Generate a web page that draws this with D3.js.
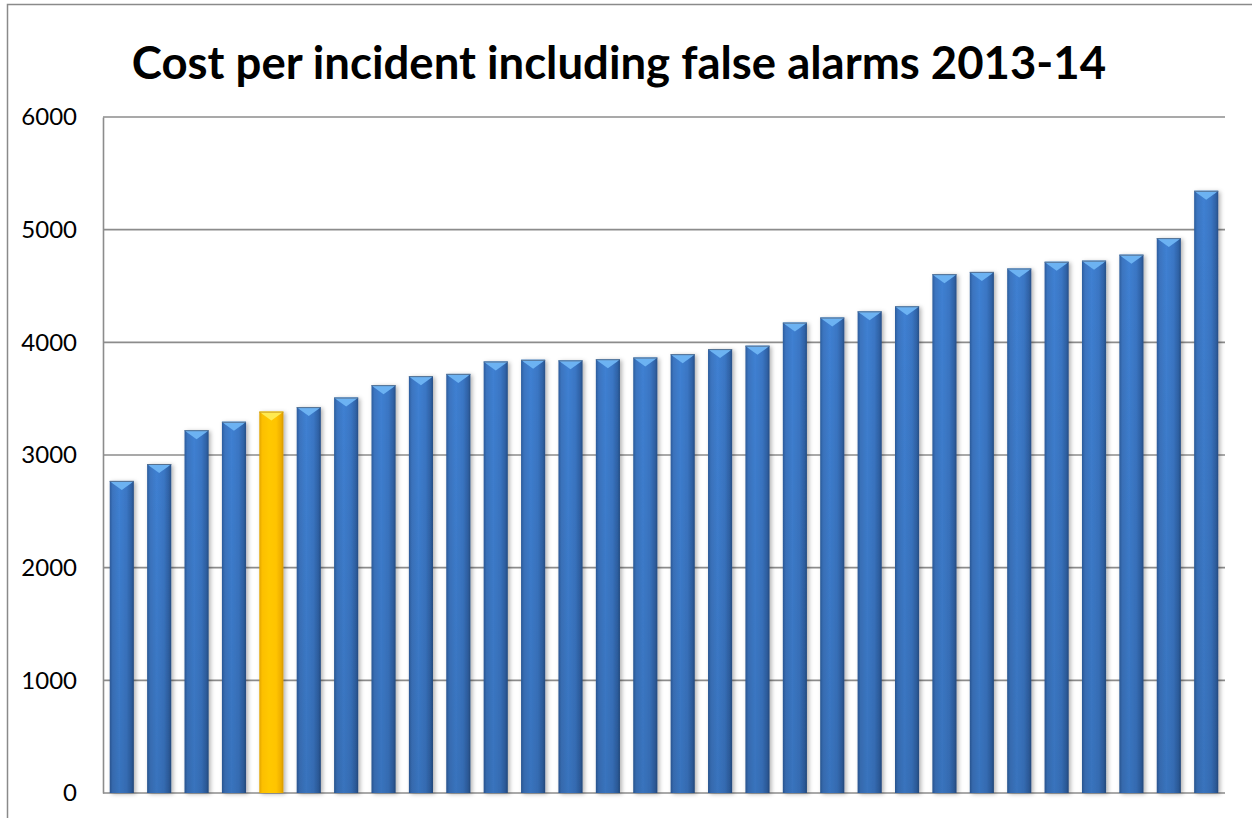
<!DOCTYPE html>
<html>
<head>
<meta charset="utf-8">
<script src="https://cdn.jsdelivr.net/npm/d3@7"></script>
<style>
  html, body { margin: 0; padding: 0; background: #fff; }
  svg { display: block; }
</style>
</head>
<body>
<svg id="chart" width="1252" height="818"></svg>
<script>
// Cost per incident (£) for each service, sorted ascending
const services = d3.range(1, 31).map(i => "S" + i);
const costs = [2770, 2920, 3220, 3295, 3385, 3425, 3510, 3620, 3700, 3720,
               3830, 3845, 3840, 3850, 3865, 3895, 3940, 3970, 4175, 4220,
               4275, 4320, 4605, 4625, 4655, 4715, 4725, 4778, 4925, 5345];
const highlighted = ["S5"];
const yTicks = [0, 1000, 2000, 3000, 4000, 5000, 6000];
const titleText = "Cost per incident including false alarms 2013-14";

const svg = d3.select("#chart");
const W = 1252, H = 818;
const m = { left: 103, right: 1225, top: 117, bottom: 793 };

// Outer chart frame (extends beyond the visible canvas on the right and bottom)
svg.append("path")
  .attr("d", `M7.5,${H + 5} L7.5,4.5 L${W + 5},4.5`)
  .attr("fill", "none").attr("stroke", "#8a8a8a").attr("stroke-width", 1.5);

// Title
svg.append("text")
  .attr("x", 619).attr("y", 79)
  .attr("text-anchor", "middle")
  .attr("font-family", "Lato, 'Open Sans', sans-serif")
  .attr("font-weight", "bold")
  .attr("font-size", 45.5)
  .attr("fill", "#000")
  .text(titleText);

const x = d3.scaleBand().domain(services).range([m.left, m.right]).paddingInner(0.355).paddingOuter(0.18);
const y = d3.scaleLinear().domain([0, 6000]).range([m.bottom, m.top]);

// Gridlines
const grid = svg.append("g");
grid.selectAll("line").data(yTicks).join("line")
  .attr("x1", m.left).attr("x2", m.right)
  .attr("y1", d => y(d)).attr("y2", d => y(d))
  .attr("stroke", "#8c8c8c").attr("stroke-width", 1.6);

// Value axis with labels
const yAxis = d3.axisLeft(y).tickValues(yTicks).tickSize(0).tickPadding(26).tickFormat(d3.format("d"));
const ga = svg.append("g").attr("transform", `translate(${m.left},0)`).call(yAxis);
ga.select(".domain").attr("stroke", "#8c8c8c").attr("stroke-width", 1.6);
ga.selectAll("text")
  .attr("font-family", "Lato, 'Open Sans', sans-serif")
  .attr("font-size", 24)
  .attr("fill", "#000");

// Gradients for bevelled bars
const defs = svg.append("defs");
function bodyGrad(id, stops) {
  const g = defs.append("linearGradient").attr("id", id).attr("x1", 0).attr("x2", 1).attr("y1", 0).attr("y2", 0);
  stops.forEach(([o, c]) => g.append("stop").attr("offset", o).attr("stop-color", c));
}
bodyGrad("blueBody", [[0, "#2c5c9c"], [0.12, "#3b74bf"], [0.4, "#3f80d2"], [0.7, "#3a76c4"], [0.9, "#2f62a6"], [1, "#274f86"]]);
bodyGrad("goldBody", [[0, "#e0a400"], [0.12, "#fcbf00"], [0.4, "#ffc800"], [0.7, "#ffc400"], [0.9, "#eeae00"], [1, "#d69800"]]);
const shade = defs.append("linearGradient").attr("id", "shadeV").attr("x1", 0).attr("x2", 0).attr("y1", 0).attr("y2", 1);
shade.append("stop").attr("offset", 0).attr("stop-color", "#000").attr("stop-opacity", 0);
shade.append("stop").attr("offset", 1).attr("stop-color", "#000").attr("stop-opacity", 0.1);

const shadow = defs.append("filter").attr("id", "barShadow").attr("x", "-30%").attr("y", "-5%").attr("width", "160%").attr("height", "110%");
shadow.append("feDropShadow").attr("dx", 2).attr("dy", 1).attr("stdDeviation", 2).attr("flood-color", "#000").attr("flood-opacity", 0.3);

const bars = svg.append("g").selectAll("g").data(services).join("g");
const isHi = s => highlighted.includes(s);

bars.append("rect")
  .attr("x", d => x(d)).attr("width", x.bandwidth())
  .attr("y", (d, i) => y(costs[i])).attr("height", (d, i) => y(0) - y(costs[i]))
  .attr("fill", d => isHi(d) ? "url(#goldBody)" : "url(#blueBody)")
  .attr("filter", "url(#barShadow)");

bars.filter(d => !isHi(d)).append("rect")
  .attr("x", d => x(d)).attr("width", x.bandwidth())
  .attr("y", d => y(costs[services.indexOf(d)]))
  .attr("height", d => y(0) - y(costs[services.indexOf(d)]))
  .attr("fill", "url(#shadeV)");

// Top bevel: light downward wedge
bars.append("path")
  .attr("d", (d, i) => {
    const x0 = x(d), w = x.bandwidth(), t = y(costs[i]);
    return `M${x0},${t} L${x0 + w},${t} L${x0 + w - 3},${t + 2.5} L${x0 + w / 2},${t + 9} L${x0 + 3},${t + 2.5} Z`;
  })
  .attr("fill", d => isHi(d) ? "#ffea50" : "#6cb2f2");

bars.append("line")
  .attr("x1", d => x(d)).attr("x2", d => x(d) + x.bandwidth())
  .attr("y1", (d, i) => y(costs[i]) + 0.5).attr("y2", (d, i) => y(costs[i]) + 0.5)
  .attr("stroke", d => isHi(d) ? "#c99a20" : "#55708f").attr("stroke-width", 1);
</script>
</body>
</html>
